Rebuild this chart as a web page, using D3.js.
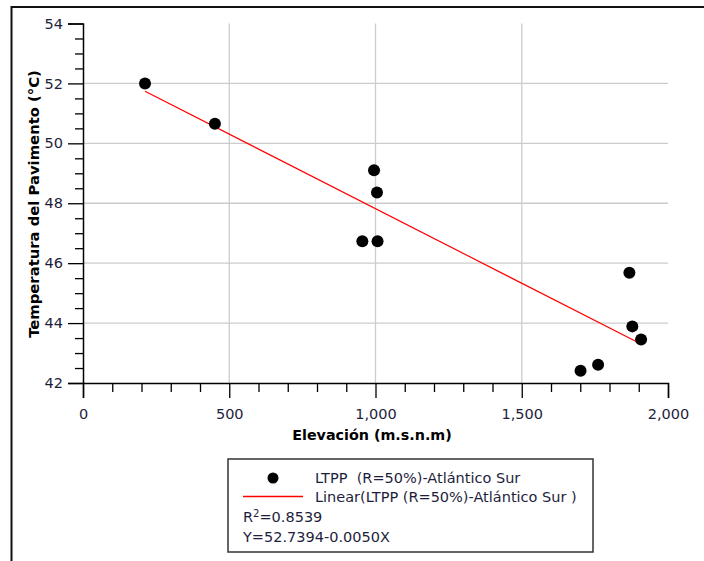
<!DOCTYPE html>
<html>
<head>
<meta charset="utf-8">
<script src="https://cdn.jsdelivr.net/npm/d3@7"></script>
<style>
html,body{margin:0;padding:0;background:#fff;}
svg{display:block;}
text{font-family:"DejaVu Sans",Verdana,sans-serif;}
</style>
</head>
<body>
<svg id="chart" width="704" height="561"></svg>
<script>
// ---- data ----
const elevation = [212, 451, 995, 1005, 955, 1007, 1868, 1878, 1908, 1701, 1761];
const temperature = [52.0, 50.65, 49.1, 48.36, 46.73, 46.73, 45.68, 43.89, 43.45, 42.41, 42.61];
const trendX = [212, 1908];
const trendY = [51.74, 43.30];
const xTicks = [0, 500, 1000, 1500, 2000];
const yTicks = [42, 44, 46, 48, 50, 52, 54];
const seriesName = "LTPP  (R=50%)-Atlántico Sur";
const trendName = "Linear(LTPP (R=50%)-Atlántico Sur )";
const r2Label = "0.8539";
const eqLabel = "Y=52.7394-0.0050X";
const xTitle = "Elevación (m.s.n.m)";
const yTitle = "Temperatura del Pavimento (°C)";

const svg = d3.select("#chart");
const x = d3.scaleLinear().domain([0, 2000]).range([83, 668]);
const y = d3.scaleLinear().domain([42, 54]).range([383, 23.5]);

// outer frame (top + left)
svg.append("path").attr("d", "M11.5,561 V7 H704").attr("fill", "none")
  .attr("stroke", "#111").attr("stroke-width", 2);

// gridlines
svg.append("g").selectAll("line").data(yTicks.filter(d => d > 42 && d < 54)).join("line")
  .attr("x1", x(0)).attr("x2", x(2000)).attr("y1", d => y(d)).attr("y2", d => y(d))
  .attr("stroke", "#cccccc").attr("stroke-width", 1.3);
svg.append("g").selectAll("line").data(xTicks.filter(d => d > 0 && d < 2000)).join("line")
  .attr("x1", d => x(d)).attr("x2", d => x(d)).attr("y1", y(42)).attr("y2", y(54))
  .attr("stroke", "#cccccc").attr("stroke-width", 1.3);

// axes
const tickColor = "#1e1e3c";
const xAxis = d3.axisBottom(x).tickValues(xTicks).tickFormat(d3.format(",")).tickSize(15).tickPadding(11);
const gx = svg.append("g").attr("transform", `translate(0,${y(42)})`).call(xAxis);
gx.select(".domain").attr("stroke", "#000").attr("stroke-width", 1.5);
gx.selectAll(".tick line").attr("stroke", "#000").attr("stroke-width", 1.3);
gx.selectAll(".tick text").attr("font-size", 14.5).attr("fill", tickColor).attr("font-family", "DejaVu Sans");
const xMinor = d3.axisBottom(x).tickValues(d3.range(0, 2001, 100).filter(d => d % 500 !== 0)).tickSize(9).tickFormat("");
const gxm = svg.append("g").attr("transform", `translate(0,${y(42)})`).call(xMinor);
gxm.select(".domain").remove();
gxm.selectAll(".tick line").attr("stroke", "#000").attr("stroke-width", 1.3);

const yAxis = d3.axisLeft(y).tickValues(yTicks).tickSize(15).tickPadding(5);
const gy = svg.append("g").attr("transform", `translate(${x(0)},0)`).call(yAxis);
gy.select(".domain").attr("stroke", "#000").attr("stroke-width", 1.5);
gy.selectAll(".tick line").attr("stroke", "#000").attr("stroke-width", 1.3);
gy.selectAll(".tick text").attr("font-size", 14.5).attr("fill", tickColor).attr("font-family", "DejaVu Sans");
const yMinor = d3.axisLeft(y).tickValues(d3.range(42, 54.01, 0.5).filter(d => d % 2 !== 0)).tickSize(8).tickFormat("");
const gym = svg.append("g").attr("transform", `translate(${x(0)},0)`).call(yMinor);
gym.select(".domain").remove();
gym.selectAll(".tick line").attr("stroke", "#000").attr("stroke-width", 1.3);

// axis titles
svg.append("text").attr("x", 372).attr("y", 440).attr("text-anchor", "middle")
  .attr("font-size", 14.3).attr("font-weight", "bold").attr("fill", "#000").text(xTitle);
svg.append("text").attr("transform", `translate(39,204) rotate(-90)`).attr("text-anchor", "middle")
  .attr("font-size", 14.8).attr("font-weight", "bold").attr("fill", "#000").text(yTitle);

// trend line
svg.append("path").datum(d3.zip(trendX, trendY))
  .attr("d", d3.line().x(d => x(d[0])).y(d => y(d[1])))
  .attr("fill", "none").attr("stroke", "#ff0000").attr("stroke-width", 1.2);

// points
svg.append("g").selectAll("circle").data(d3.zip(elevation, temperature)).join("circle")
  .attr("cx", d => x(d[0])).attr("cy", d => y(d[1])).attr("r", 6).attr("fill", "#000");

// legend
const lg = svg.append("g");
lg.append("rect").attr("x", 228).attr("y", 459).attr("width", 365).attr("height", 93)
  .attr("fill", "#fff").attr("stroke", "#333").attr("stroke-width", 1.5);
lg.append("circle").attr("cx", 273).attr("cy", 478).attr("r", 5.5).attr("fill", "#000");
lg.append("line").attr("x1", 243).attr("x2", 303).attr("y1", 496.5).attr("y2", 496.5)
  .attr("stroke", "#ff0000").attr("stroke-width", 1.5);
const fs = 14.5;
const legTxt = (tx, ty, s) => lg.append("text").attr("x", tx).attr("y", ty)
  .attr("font-size", fs).attr("fill", "#1e1e3c").style("white-space", "pre").text(s);
legTxt(315, 483, seriesName);
legTxt(315, 502, trendName);
const r2 = lg.append("text").attr("x", 243).attr("y", 522).attr("font-size", fs).attr("fill", "#1e1e3c");
r2.append("tspan").text("R");
r2.append("tspan").attr("font-size", 10).attr("dy", -5).text("2");
r2.append("tspan").attr("dy", 5).text("=" + r2Label);
legTxt(243, 542, eqLabel);
</script>
</body>
</html>
